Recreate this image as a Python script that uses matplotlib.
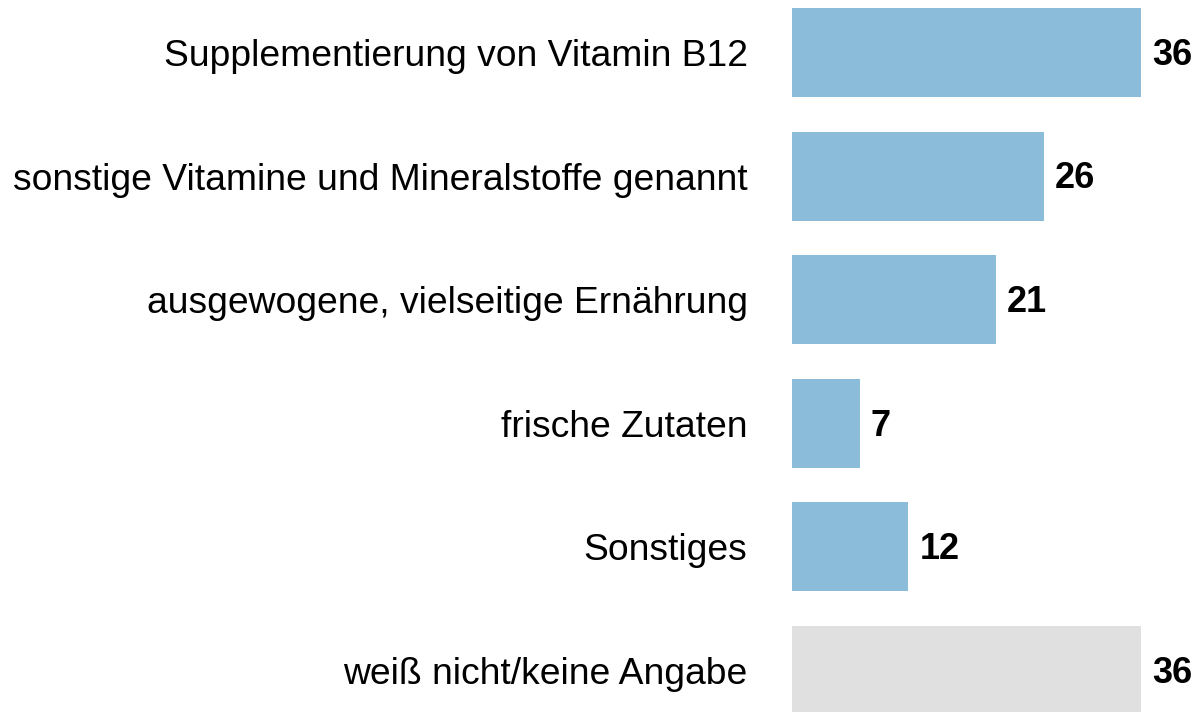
import matplotlib.pyplot as plt

categories = ['Supplementierung von Vitamin B12',
              'sonstige Vitamine und Mineralstoffe genannt',
              'ausgewogene, vielseitige Ernährung',
              'frische Zutaten',
              'Sonstiges',
              'weiß nicht/keine Angabe']
values = [36, 26, 21, 7, 12, 36]
colors = ['#8bbcda'] * 5 + ['#e0e0e0']

plt.rcParams['font.family'] = ['Liberation Sans', 'DejaVu Sans']

fig = plt.figure(figsize=(12.02, 7.12), dpi=100)
ax = fig.add_axes([792 / 1202, 0, 410 / 1202, 1])

pos = list(range(len(values)))
ax.barh(pos, values, height=0.72, color=colors)
ax.set_xlim(0, 42.29)
ax.set_ylim(5.336, -0.425)

ax.set_yticks(pos)
ax.set_yticklabels(categories, fontsize=26.8)
ax.tick_params(axis='y', length=0, pad=32)
ax.set_xticks([])
for s in ax.spines.values():
    s.set_visible(False)

for p, v in zip(pos, values):
    ax.annotate(str(v), (v, p), xytext=(8, -2), textcoords='offset points',
                ha='left', va='center', fontsize=26, fontweight='bold')

fig.savefig('out.png', dpi=100)
